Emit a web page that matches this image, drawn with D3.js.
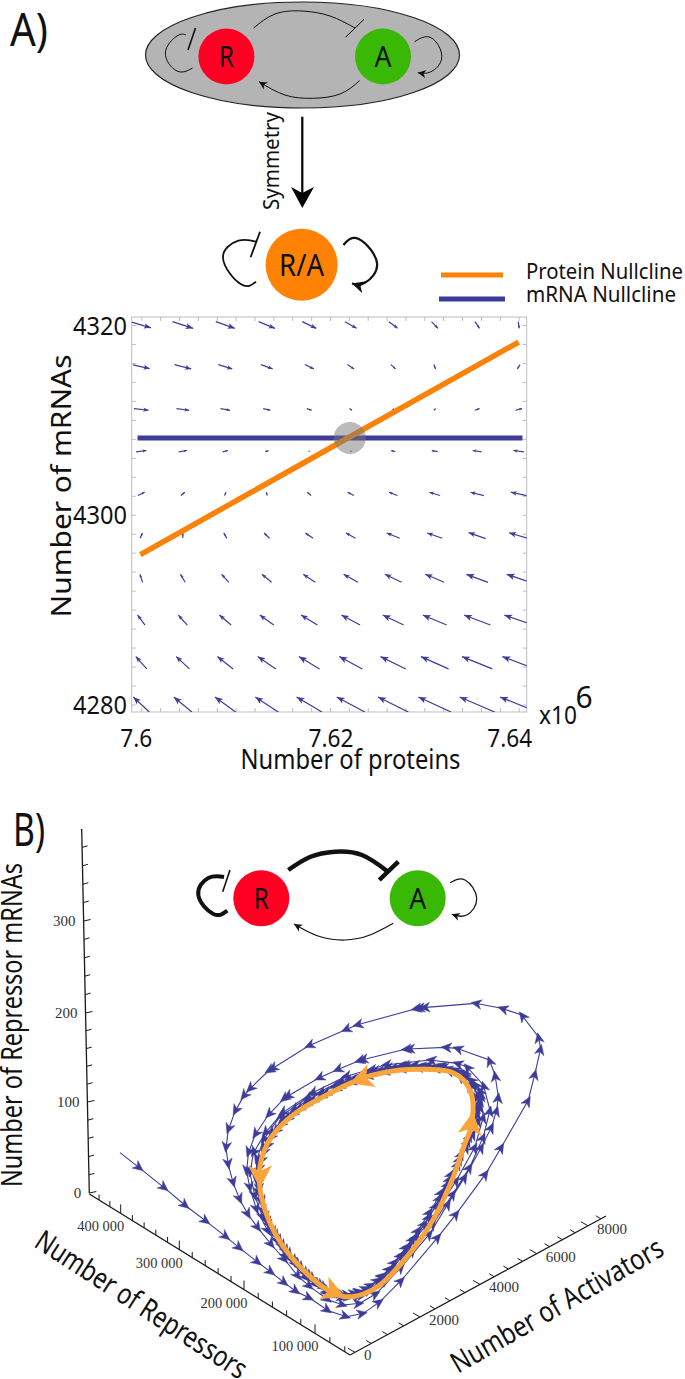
<!DOCTYPE html>
<html><head><meta charset="utf-8">
<style>html,body{margin:0;padding:0;background:#fff}svg{display:block}text{font-family:"Noto Sans",sans-serif;fill:#111}.serif{font-family:"Liberation Serif",serif;fill:#333}</style>
<script src="https://cdn.jsdelivr.net/npm/d3@7/dist/d3.min.js"></script>
</head><body><svg id="c" width="685" height="1379"></svg>
<script>
// ---------- Panel A data ----------
const proteinGrid=[7.6,7.6044,7.6089,7.6133,7.6178,7.6222,7.6267,7.6311,7.6356,7.64];
const mrnaGrid=[4320,4315.6,4311.1,4306.7,4302.2,4297.8,4293.3,4288.9,4284.4,4280];
// flow rates, arbitrary units, one row per mRNA grid level
const flowProtein=[
[58,62,57,49,42,35,26,19,14,3],
[50,50,42,35,27,20,14,5,0,-8],
[44,38,29,22,15,8,2,6,14,20],
[31,25,16,10,3,-3,-12,-18,-27,-32],
[20,12,5,-3,-11,-18,-25,-32,-40,-47],
[7,0,-9,-16,-23,-29,-39,-45,-51,-58],
[-8,-14,-22,-29,-36,-43,-50,-56,-65,-72],
[-22,-27,-35,-42,-49,-56,-63,-72,-79,-86],
[-33,-40,-47,-54,-62,-69,-76,-83,-91,-98],
[-48,-54,-62,-69,-76,-84,-91,-98,-105,-112]];
const flowMrna=[
[17,20,20,20,20,20,20,20,20,20],
[11,13,13,13,13,13,13,13,6,13],
[5,5,5,5,5,5,-5,-5,-5,-5],
[-4,-4,-4,-3,-1,0,-3,-3,-4,-4],
[-10,-10,-10,-10,-10,-10,-10,-10,-10,-10],
[-15,-15,-15,-16,-16,-16,-16,-16,-18,-17],
[-24,-24,-24,-24,-24,-24,-24,-24,-24,-24],
[-30,-30,-30,-30,-30,-30,-30,-30,-30,-30],
[-37,-37,-37,-37,-37,-37,-37,-37,-37,-37],
[-45,-45,-45,-45,-45,-45,-45,-45,-45,-45]];
const proteinNullP=[7.5999,7.64];
const proteinNullM=[4295.8,4318.2];
const mrnaNullP=[7.5996,7.6404];
const mrnaNullM=[4308.1,4308.1];
const fixedPoint=[7.6221,4308.1];
const xTickLabels=["7.6","7.62","7.64"];
const xTickValues=[7.6,7.62,7.64];
const yTickLabels=[4280,4300,4320];
const xTicks=d3.range(0,21).map(i=>+(7.6+i*0.002).toFixed(3));
const yTicks=d3.range(0,21).map(i=>4280+i*2);
const legendNames=["Protein Nullcline","mRNA Nullcline"];

// ---------- Panel B data ----------
const mrnaAxisMajor=[0,100,200,300];
const mrnaAxisMinor=d3.range(0,400,20);
const repAxisMajor=[100000,200000,300000,400000];
const repAxisMinor=d3.range(60000,450000,20000);
const actAxisMajor=[0,2000,4000,6000,8000];
const actAxisMinor=d3.range(0,9000,500);
// trajectory as read in the projected figure plane
const trajU=[-240,-180,-105,-42,20,80,120,175,215,255,290,330,385,440,490,540,605,715,770,858,905,985,1005,1022,1015,965,905,825,670,655,645,470,435,325,215,205,148,130,105,85,78,85,100,120,145,175,215,255,295,330,385,430,480,530,605,690,745,795,845,875,890,895,885,868,770,735,625,615,485,475,410,355,260,250,205,165,145,140,150,170,205,260,320,385,430,490,560,640,700,760,810,850,870,850,800,770,690,555,435,335,245,195,160,150,165,190,235,290,350,420,480,550,630,700,770,825,850,840,790,720,610,510,420,320,240,190,170,170,185,205,230,260,295,330,365,400,430,465,500,535,570,605,640,675,710,745,775,800,820,835,840,832,815,790,760,725,680,640,600,560,520,480,440,400,360,320,280,245,215,190,175,170,175,190,210,240,270,305,340,375,410,445,480,515,550,585,620,655,690,725,755,785,810,825,830,825,808,780,745,705,660,615,575,535,495,455,415,375,335,295,260,225,200,182,175,178,185,200,222,250,285,320,355,385,415,450,478,510,545,580,615,650,688,720,750,780,805,822,833,838,842,845,838,825,810,790,768,738,700,650,600,550,500,450,405,360,315,275,240,210,190,176,172];
const trajV=[548,595,655,708,755,802,835,878,908,940,965,985,1022,1040,1030,995,930,800,730,610,530,390,310,235,200,135,115,100,113,115,117,165,180,228,297,303,358,380,425,480,535,585,640,690,735,775,825,870,920,950,990,1005,1000,970,890,790,700,620,530,470,420,380,315,270,235,232,237,238,270,273,300,325,380,388,435,495,550,605,655,720,785,860,925,970,985,975,930,840,760,670,590,500,420,345,290,280,270,285,320,370,430,490,550,610,680,745,815,885,945,975,965,920,825,740,630,530,440,370,305,285,285,300,335,385,440,510,570,630,695,760,800,845,885,920,948,968,975,970,955,930,895,855,805,760,705,640,580,530,490,450,410,375,340,315,298,290,285,285,288,295,305,318,335,350,370,392,420,450,490,535,580,625,670,725,770,815,855,895,928,955,972,976,965,945,915,875,830,780,725,665,610,550,495,450,410,380,345,318,300,292,288,290,295,305,318,333,350,372,392,418,448,485,530,575,620,660,700,745,790,830,875,912,945,965,978,982,975,958,930,892,848,798,740,682,625,565,510,465,430,405,390,375,360,342,328,318,305,296,294,293,297,305,320,338,357,380,403,433,465,505,550,600,640];
// the limit cycle
const cycleU=[180,195,225,265,320,375,435,490,540,600,660,710,760,795,811,819,815,790,750,680,600,520,450,370,300,240,200,180];
const cycleV=[655,720,790,850,910,955,980,972,945,885,810,730,620,520,480,425,375,330,305,298,300,315,340,380,420,470,525,590];
const cycleArrowIndex=[0,6,15,22];

const svg=d3.select("#c");
const defs=svg.append("defs");
defs.append("clipPath").attr("id","frame").append("rect").attr("x",131.7).attr("y",317).attr("width",395).attr("height",395);
function marker(id,s){
  defs.append("marker").attr("id",id).attr("markerUnits","userSpaceOnUse").attr("viewBox","-10 -6 11 12")
   .attr("markerWidth",s).attr("markerHeight",s*12/11).attr("refX",0).attr("refY",0).attr("orient","auto")
   .append("path").attr("d","M0,0L-10,-5L-7,0L-10,5Z").attr("fill","#111");
}
marker("ah",9);marker("ahb",14);

function T(str,x,y,size,opt={}){
  const t=svg.append("text").attr("x",x).attr("y",y).attr("font-size",size).attr("text-anchor",opt.anchor||"middle").text(str);
  if(opt.rot!==undefined)t.attr("transform",`rotate(${opt.rot} ${x} ${y})`);
  if(opt.len){t.attr("textLength",opt.len).attr("lengthAdjust","spacingAndGlyphs");}
  if(opt.cls)t.attr("class",opt.cls);
  return t;
}
const smooth=d3.line().curve(d3.curveNatural);
function wire(pts,w,arrow){
  const p=svg.append("path").attr("d",smooth(pts)).attr("fill","none").attr("stroke","#111").attr("stroke-width",w);
  if(arrow)p.attr("marker-end",`url(#${arrow})`);
}
function bar(a,b,w){svg.append("line").attr("x1",a[0]).attr("y1",a[1]).attr("x2",b[0]).attr("y2",b[1]).attr("stroke","#111").attr("stroke-width",w);}
function node(cx,cy,r,c,label,size,len){
  svg.append("circle").attr("cx",cx).attr("cy",cy).attr("r",r).attr("fill",c);
  T(label,cx,cy+size*0.36,size,{len});
}

// ---------- Diagram A ----------
T("A)",29,46,46,{len:38});
svg.append("ellipse").attr("cx",302.5).attr("cy",55).attr("rx",157).attr("ry",53).attr("fill","#b4b4b4").attr("stroke","#222").attr("stroke-width",1.2);
node(226.4,56.5,28,"#ff0022","R",29,15);
node(383,56.5,28,"#39b806","A",29,17);
wire([[192.5,68],[177,71],[165.4,53],[177,36],[186,35]],1);
bar([195.5,28],[188,50],1.6);
wire([[253.7,28],[275,14],[302,11],[330,16],[355,28]],1);
bar([364,19.3],[345.6,37.3],1);
wire([[359.6,80.7],[340,94],[312.8,98.3],[285,95],[259,81.7]],1,"ah");
wire([[414.7,41.7],[431,37.7],[441.8,56.7],[431,71.7],[417.8,72.7]],1,"ah");
svg.append("line").attr("x1",302.3).attr("x2",302.3).attr("y1",116.7).attr("y2",195).attr("stroke","#000").attr("stroke-width",2.2);
svg.append("path").attr("d",d3.line()([[302.3,208],[291,187],[302.3,193],[314,187]])+"Z").attr("fill","#000");
T("Symmetry",279,161,21,{rot:-90,len:98});
node(301.6,264.7,36,"#ff8205","R/A",30,45);
wire([[256,281.7],[240.6,284],[223,258],[238.4,240.7],[256,241.7]],1.8);
bar([260,231.7],[250.6,257.3],1.8);
wire([[343.4,245],[358.7,239],[377,263],[365,282.7],[352,283.5]],2.2,"ahb");
// legend
svg.append("line").attr("x1",441).attr("x2",503).attr("y1",275).attr("y2",275).attr("stroke","#fb8208").attr("stroke-width",5);
svg.append("line").attr("x1",439).attr("x2",505).attr("y1",299).attr("y2",299).attr("stroke","#3d3c99").attr("stroke-width",5);
T(legendNames[0],526,279,21,{anchor:"start",len:157});
T(legendNames[1],526,302,21,{anchor:"start",len:150});

// ---------- Panel A plot ----------
const x=d3.scaleLinear().domain([7.6,7.64]).range([141.3,518.7]);
const y=d3.scaleLinear().domain([4280,4320]).range([704.5,325]);
const flowX=d3.scaleLinear().domain([0,100]).range([0,100/3]);
const flowY=d3.scaleLinear().domain([0,100]).range([0,100/3]);
const gF=svg.append("g");
gF.append("rect").attr("x",131.7).attr("y",317).attr("width",395).attr("height",395).attr("fill","#fff").attr("stroke","#bcbcc4").attr("stroke-width",1);
const ga=(g)=>g.call(s=>s.select(".domain").remove()).call(s=>s.selectAll("line").attr("stroke","#bcbcc4"));
gF.append("g").attr("transform","translate(0,712)").call(d3.axisTop(x).tickValues(xTicks).tickSize(4).tickFormat("")).call(ga);
gF.append("g").attr("transform","translate(0,317)").call(d3.axisBottom(x).tickValues(xTicks).tickSize(4).tickFormat("")).call(ga);
gF.append("g").attr("transform","translate(131.7,0)").call(d3.axisRight(y).tickValues(yTicks).tickSize(4).tickFormat("")).call(ga);
gF.append("g").attr("transform","translate(526.7,0)").call(d3.axisLeft(y).tickValues(yTicks).tickSize(4).tickFormat("")).call(ga);
// vector field
const gV=gF.append("g").attr("clip-path","url(#frame)");
mrnaGrid.forEach((m,r)=>proteinGrid.forEach((p,c)=>{
  const dx=flowX(flowProtein[r][c]),dy=flowY(flowMrna[r][c]),len=Math.hypot(dx,dy);
  if(len<0.5)return;
  const cx=x(p),cy=y(m),hx=cx+dx/2,hy=cy+dy/2,tx=cx-dx/2,ty=cy-dy/2;
  gV.append("line").attr("x1",tx).attr("y1",ty).attr("x2",hx).attr("y2",hy).attr("stroke","#3d3c99").attr("stroke-width",1.2);
  const h=Math.min(8,len*0.3+1),a=Math.atan2(dy,dx)*180/Math.PI;
  gV.append("path").attr("d",`M0,0L${-h},${-h*0.4}L${-h*0.75},0L${-h},${h*0.4}Z`).attr("fill","#3d3c99")
    .attr("transform",`translate(${hx},${hy}) rotate(${a})`);
}));
const lin=d3.line().x(d=>x(d[0])).y(d=>y(d[1]));
gF.append("path").attr("d",lin(d3.zip(mrnaNullP,mrnaNullM))).attr("stroke","#3d3c99").attr("stroke-width",5).attr("fill","none");
gF.append("path").attr("d",lin(d3.zip(proteinNullP,proteinNullM))).attr("stroke","#fb8208").attr("stroke-width",5.5).attr("fill","none");
gF.append("circle").attr("cx",x(fixedPoint[0])).attr("cy",y(fixedPoint[1])).attr("r",16).attr("fill","#777").attr("fill-opacity",0.5);
const xLabelShift=[-5,1,-9], xLabelLen=[32,45,45];
xTickValues.forEach((v,i)=>T(xTickLabels[i],x(v)+xLabelShift[i],747,26,{len:xLabelLen[i]}));
yTickLabels.forEach(v=>T(String(v),127,y(v)+9.5,26,{anchor:"end",len:54}));
T("Number of proteins",350.5,769,27,{len:220});
T("Number of mRNAs",71,486,28,{rot:-90,len:263});
T("x10",558,724,26,{len:38});
T("6",584,708,30);

// ---------- Panel B diagram ----------
T("B)",29,846,46,{len:32});
node(261.3,898.3,28,"#ff0022","R",29,15);
node(417.7,898.3,28,"#39b806","A",29,17);
wire([[288.3,870],[310,857],[335,851.7],[362,855],[388,871.7]],4.5);
bar([398.3,861.7],[379.3,880],4.5);
wire([[393.3,923.3],[370,935],[345,940],[318,936],[294,924]],1.2,"ah");
wire([[227.3,910.7],[213.3,914],[198.3,895],[208.3,878],[224,877]],4);
bar([230,870],[222.7,891.7],1.6);
wire([[450,882.7],[465,880],[476.7,898.3],[466.7,915],[451.7,914.3]],1.2,"ah");

// ---------- Panel B 3D axes ----------
const mrnaPX=d3.scaleLinear().domain([0,400]).range([89.3,81.7]);
const mrnaPY=d3.scaleLinear().domain([0,100,200,300,400]).range([1193,1102,1013,921,829]);
const repT=d3.scaleLinear().domain([458000,400000,300000,200000,100000,53000]).range([0,.1204,.3452,.5934,.8658,1]);
const repPX=d3.scaleLinear().domain([0,1]).range([89.3,350]);
const repPY=d3.scaleLinear().domain([0,1]).range([1194,1355]);
const actT=d3.scaleLinear().domain([-150,0,2000,4000,6000,8000,8700]).range([0,.0195,.2734,.5078,.7293,.9297,1]);
const actPX=d3.scaleLinear().domain([0,1]).range([350,606]);
const actPY=d3.scaleLinear().domain([0,1]).range([1355,1216]);
const gA=svg.append("g").attr("stroke","#1a1a1a").attr("fill","none");
gA.append("path").attr("stroke-width",1.3).attr("d",d3.line()([[mrnaPX(0),mrnaPY(0)],[mrnaPX(400),mrnaPY(400)]]));
gA.append("path").attr("stroke-width",1.3).attr("d",d3.line()([[repPX(0),repPY(0)],[repPX(1),repPY(1)]]));
gA.append("path").attr("stroke-width",1.3).attr("d",d3.line()([[actPX(0),actPY(0)],[actPX(1),actPY(1)]]));
mrnaAxisMinor.forEach(v=>gA.append("line").attr("stroke-width",1).attr("x1",mrnaPX(v)).attr("y1",mrnaPY(v)).attr("x2",mrnaPX(v)+(v%100?5.5:7)).attr("y2",mrnaPY(v)-1.5));
repAxisMinor.forEach(v=>{const t=repT(v),X=repPX(t),Y=repPY(t),M=v%100000===0;gA.append("line").attr("stroke-width",1).attr("x1",X).attr("y1",Y).attr("x2",X).attr("y2",Y-(M?9:5.5));});
actAxisMinor.forEach(v=>{const t=actT(v),X=actPX(t),Y=actPY(t),M=v%2000===0;gA.append("line").attr("stroke-width",1).attr("x1",X).attr("y1",Y).attr("x2",X-(M?7:5)).attr("y2",Y-(M?4:3));});
mrnaAxisMajor.forEach(v=>T(String(v),mrnaPX(v)-8,mrnaPY(v)+5,15,{anchor:"end",cls:"serif"}));
repAxisMajor.forEach(v=>{const t=repT(v);T(d3.format(",")(v).replace(","," "),repPX(t)-20,repPY(t)+18,15,{cls:"serif",len:47});});
actAxisMajor.forEach(v=>{const t=actT(v);T(String(v),actPX(t)+9,actPY(t)+8,15,{anchor:"start",cls:"serif"});});
T("Number of Repressor mRNAs",22,1187,29,{anchor:"start",rot:-90,len:324});
T("Number of Repressors",136,1313,29,{rot:33,len:246});
T("Number of Activators",562,1314,29,{rot:-30,len:240});

// ---------- Panel B trajectory ----------
const pu=d3.scaleLinear().domain([0,1080]).range([200,560]);
const pv=d3.scaleLinear().domain([0,1050]).range([970,1320]);
const tr=d3.zip(trajU,trajV).map(d=>[pu(d[0]),pv(d[1])]);
const gT=svg.append("g");
gT.append("path").attr("d",d3.line()(tr)).attr("fill","none").attr("stroke","#3d3c99").attr("stroke-width",1.1);
tr.forEach((p,i)=>{ if(i<1)return;
  const q=tr[i-1],a=Math.atan2(p[1]-q[1],p[0]-q[0])*180/Math.PI;
  gT.append("path").attr("d","M4,0L-6.5,-4.8L-3.5,0L-6.5,4.8Z").attr("fill","#3d3c99").attr("stroke","#3d3c99").attr("stroke-width",.4)
   .attr("transform",`translate(${p[0]},${p[1]}) rotate(${a})`);
});
const cy=d3.zip(cycleU,cycleV).map(d=>[pu(d[0]),pv(d[1])]);
svg.append("path").attr("d",d3.line().curve(d3.curveCatmullRomClosed)(cy)).attr("fill","none").attr("stroke","#f8a63c").attr("stroke-width",5);
cycleArrowIndex.forEach(i=>{
  const p=cy[i],q=cy[(i-1+cy.length)%cy.length],a=Math.atan2(p[1]-q[1],p[0]-q[0])*180/Math.PI;
  svg.append("path").attr("d","M0,0L-23,-12L-17,0L-23,12Z").attr("fill","#f8a63c").attr("transform",`translate(${p[0]},${p[1]}) rotate(${a})`);
});
</script></body></html>
